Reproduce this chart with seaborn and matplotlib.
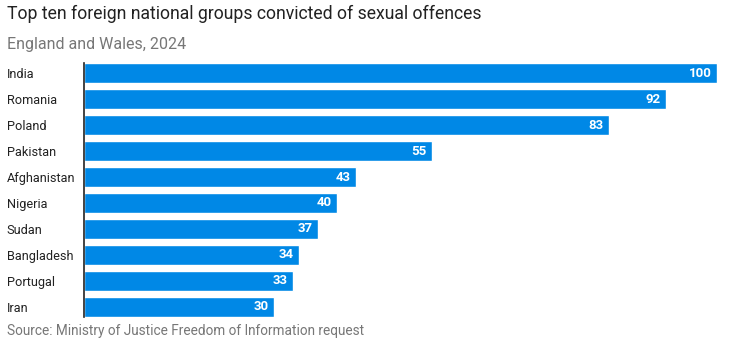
import matplotlib
matplotlib.use("Agg")
import matplotlib.pyplot as plt
import seaborn as sns
import pandas as pd
from matplotlib import font_manager

countries = ["India", "Romania", "Poland", "Pakistan", "Afghanistan", "Nigeria",
             "Sudan", "Bangladesh", "Portugal", "Iran"]
values = [100, 92, 83, 55, 43, 40, 37, 34, 33, 30]
title = "Top ten foreign national groups convicted of sexual offences"
subtitle = "England and Wales, 2024"
source = "Source: Ministry of Justice Freedom of Information request"

sns.set_theme(style="white")
names = {f.name for f in font_manager.fontManager.ttflist}
cond = "Liberation Sans Narrow" if "Liberation Sans Narrow" in names else "Roboto"
plt.rcParams['font.family'] = ['Roboto', 'DejaVu Sans']

df = pd.DataFrame({"country": countries, "value": values})
fig = plt.figure(figsize=(7.36, 3.53), dpi=100)
ax = fig.add_axes([84/736, 1-317/353, (717-84)/736, (317-63)/353])
sns.barplot(data=df, x="value", y="country", color="#0088e6", width=0.77,
            saturation=1, ax=ax, orient="h")
ax.set_xlim(0, 100)
ax.set_ylim(9.385, -0.385)
ax.set_xlabel("")
ax.set_ylabel("")
ax.set_xticks([])
for s in ["top", "right", "bottom"]:
    ax.spines[s].set_visible(False)
ax.spines["left"].set_color("#222222")
ax.spines["left"].set_linewidth(1.2)
ax.tick_params(axis="y", length=0, pad=55.5)
for lab in ax.get_yticklabels():
    lab.set_ha("left")
    lab.set_fontfamily(cond)
    lab.set_fontsize(9.2)
    lab.set_color("#222222")
for i, v in enumerate(values):
    ax.annotate(str(v), xy=(v, i), xytext=(-4, 0), textcoords="offset points",
                ha="right", va="center", color="white", fontsize=9.5,
                fontweight="bold", fontfamily=cond)

fig.text(7/736, 1-14/353, title, fontsize=12.7, color="#222222", va="center", ha="left")
fig.text(7/736, 1-44/353, subtitle, fontsize=11.5, color="#777777", va="center", ha="left")
fig.text(7/736, 1-331/353, source, fontsize=9.8, color="#777777", va="center", ha="left")
fig.savefig("out.png", dpi=100)
